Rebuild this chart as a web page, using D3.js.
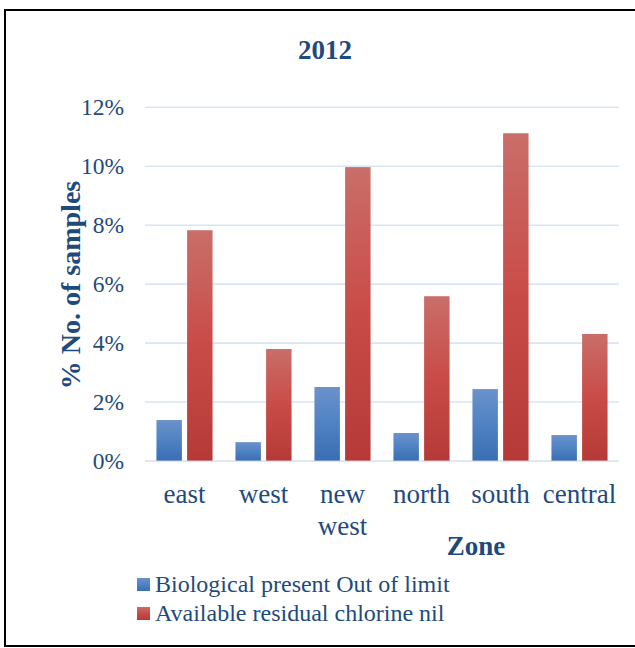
<!DOCTYPE html>
<html>
<head>
<meta charset="utf-8">
<script src="https://cdn.jsdelivr.net/npm/d3@7/dist/d3.min.js"></script>
<style>
  html, body { margin: 0; padding: 0; background: #ffffff; }
  svg { display: block; }
  text { font-family: "Liberation Serif", "Times New Roman", serif; fill: #1f4a7d; }
</style>
</head>
<body>
<svg id="chart" width="635" height="648"></svg>
<script>
// Zones and the two measured shares (% of samples) for 2012
const zones = ["east", "west", "new west", "north", "south", "central"];
const seriesNames = ["Biological present Out of limit", "Available residual chlorine nil"];
const biological = [1.39, 0.64, 2.51, 0.95, 2.44, 0.88];
const chlorineNil = [7.83, 3.80, 9.97, 5.59, 11.12, 4.31];
const yTicks = [0, 2, 4, 6, 8, 10, 12];

const svg = d3.select("#chart");
const W = 635, H = 648;
const plot = { left: 145, right: 619, top: 107.3, bottom: 461 };

// Outer frame
svg.append("rect")
  .attr("x", 5).attr("y", 10)
  .attr("width", 640).attr("height", 636)
  .attr("fill", "#ffffff")
  .attr("stroke", "#000000").attr("stroke-width", 2);

// Gradients for the bars
const defs = svg.append("defs");
const gradStops = [
  [["0%", "#6b92cb"], ["50%", "#4f82c3"], ["100%", "#3a6db2"]],
  [["0%", "#c96e69"], ["50%", "#c94b47"], ["100%", "#b53a37"]]
];
gradStops.forEach((stops, i) => {
  const g = defs.append("linearGradient")
    .attr("id", "grad" + i)
    .attr("x1", 0).attr("y1", 0).attr("x2", 0).attr("y2", 1);
  stops.forEach(s => g.append("stop").attr("offset", s[0]).attr("stop-color", s[1]));
});

const x0 = d3.scaleBand().domain(zones).range([plot.left, plot.right]).paddingInner(0.29).paddingOuter(0.145);
const x1 = d3.scaleBand().domain(seriesNames).range([0, x0.bandwidth()]).paddingInner(0.17);
const y = d3.scaleLinear().domain([0, 12]).range([plot.bottom, plot.top]);

// Horizontal gridlines
svg.append("g").selectAll("line")
  .data(yTicks)
  .join("line")
  .attr("x1", plot.left).attr("x2", plot.right)
  .attr("y1", d => y(d)).attr("y2", d => y(d))
  .attr("stroke", "#dae5f3").attr("stroke-width", 1.6);

// Y tick labels
svg.append("g").selectAll("text")
  .data(yTicks)
  .join("text")
  .attr("x", 124)
  .attr("y", d => y(d) + 7.5)
  .attr("text-anchor", "end")
  .style("font-size", "23.5px")
  .text(d => d + "%");

// Bars
const rows = zones.map((z, i) => ({ zone: z, values: [biological[i], chlorineNil[i]] }));
const groups = svg.append("g").selectAll("g")
  .data(rows)
  .join("g")
  .attr("transform", d => `translate(${x0(d.zone)},0)`);
groups.selectAll("rect")
  .data(d => d.values.map((v, k) => ({ v, k })))
  .join("rect")
  .attr("x", d => x1(seriesNames[d.k]))
  .attr("width", x1.bandwidth())
  .attr("y", d => y(d.v))
  .attr("height", d => y(0) - y(d.v))
  .attr("fill", d => `url(#grad${d.k})`);

// Baseline over the bars
svg.append("line")
  .attr("x1", plot.left).attr("x2", plot.right)
  .attr("y1", y(0)).attr("y2", y(0))
  .attr("stroke", "#dae5f3").attr("stroke-width", 1.2).attr("opacity", 0.8);

// Category labels (wrapped onto two lines where needed)
const catLabels = svg.append("g").selectAll("text")
  .data(zones)
  .join("text")
  .attr("x", d => x0(d) + x0.bandwidth() / 2)
  .attr("y", 503)
  .attr("text-anchor", "middle")
  .style("font-size", "27px");
catLabels.each(function (d) {
  const words = d.split(" ");
  const t = d3.select(this);
  words.forEach((w, i) => {
    t.append("tspan")
      .attr("x", x0(d) + x0.bandwidth() / 2)
      .attr("dy", i === 0 ? 0 : 32)
      .text(w);
  });
});

// Title
svg.append("text")
  .attr("x", 325).attr("y", 58.5)
  .attr("text-anchor", "middle")
  .style("font-size", "27px").style("font-weight", "bold")
  .text("2012");

// Axis titles
svg.append("text")
  .attr("transform", "translate(80,285) rotate(-90)")
  .attr("text-anchor", "middle")
  .style("font-size", "28px").style("font-weight", "bold")
  .text("% No. of samples");

svg.append("text")
  .attr("x", 476).attr("y", 555)
  .attr("text-anchor", "middle")
  .style("font-size", "27px").style("font-weight", "bold")
  .text("Zone");

// Legend
const legend = svg.append("g").selectAll("g")
  .data(seriesNames)
  .join("g")
  .attr("transform", (d, i) => `translate(137,${578 + i * 29})`);
legend.append("rect")
  .attr("width", 13).attr("height", 13)
  .attr("fill", (d, i) => `url(#grad${i})`);
legend.append("text")
  .attr("x", 18).attr("y", 13.5)
  .style("font-size", "24px")
  .text(d => d);
</script>
</body>
</html>
